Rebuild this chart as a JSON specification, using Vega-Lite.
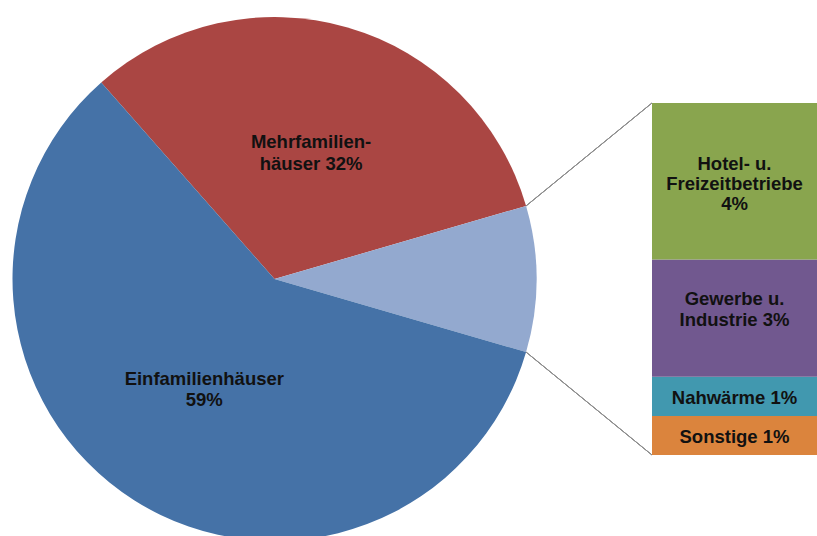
{
  "$schema": "https://vega.github.io/schema/vega-lite/v6.json",
  "padding": {"left": 12.5, "top": 17, "right": 0, "bottom": 0},
  "background": "white",
  "bounds": "flush",
  "center": true,
  "spacing": 115.5,
  "config": {"view": {"stroke": null}},
  "resolve": {"scale": {"color": "independent"}},
  "hconcat": [
    {
      "width": 524,
      "height": 524,
      "data": {
        "values": [
          {"Bereich": "Mehrfamilienhäuser", "Anteil": 32, "Label": "Mehrfamilien-\nhäuser 32%", "Rang": 1},
          {"Bereich": "Übrige", "Anteil": 9, "Label": "", "Rang": 2},
          {"Bereich": "Einfamilienhäuser", "Anteil": 59, "Label": "Einfamilienhäuser\n59%", "Rang": 3}
        ]
      },
      "layer": [
        {
          "mark": {"type": "arc", "outerRadius": 262},
          "encoding": {
            "theta": {"field": "Anteil", "type": "quantitative", "stack": true, "scale": {"range": [-0.72257, 5.56062]}},
            "order": {"field": "Rang", "type": "quantitative"},
            "color": {
              "field": "Bereich", "type": "nominal", "legend": null,
              "scale": {"domain": ["Mehrfamilienhäuser", "Übrige", "Einfamilienhäuser"], "range": ["#AA4643", "#93A9CF", "#4572A7"]}
            }
          }
        },
        {
          "mark": {"type": "text", "radius": 131, "dy": -11, "font": "Liberation Sans", "fontWeight": "bold", "fontSize": 18.5, "lineHeight": 21.5, "lineBreak": "\n", "fill": "#111111", "align": "center", "baseline": "middle"},
          "encoding": {
            "theta": {"field": "Anteil", "type": "quantitative", "stack": true},
            "order": {"field": "Rang", "type": "quantitative"},
            "text": {"field": "Label"}
          }
        },
        {
          "mark": {"type": "rule", "stroke": "#8C8C8C", "strokeWidth": 1},
          "encoding": {
            "x": {"datum": 0.9603, "type": "quantitative", "axis": null, "scale": {"domain": [-1, 1], "nice": false, "zero": false}},
            "y": {"datum": 0.279, "type": "quantitative", "axis": null, "scale": {"domain": [-1, 1], "nice": false, "zero": false}},
            "x2": {"datum": 1.4408},
            "y2": {"datum": 0.6718}
          }
        },
        {
          "mark": {"type": "rule", "stroke": "#8C8C8C", "strokeWidth": 1},
          "encoding": {
            "x": {"datum": 0.9603, "type": "quantitative", "axis": null},
            "y": {"datum": -0.279, "type": "quantitative", "axis": null},
            "x2": {"datum": 1.4408},
            "y2": {"datum": -0.6718}
          }
        }
      ]
    },
    {
      "width": 165,
      "height": 352,
      "data": {
        "values": [
          {"Gruppe": "Übrige", "Bereich": "Sonstige", "Anteil": 1, "Label": "Sonstige 1%", "Zeilen": 1, "Rang": 1},
          {"Gruppe": "Übrige", "Bereich": "Nahwärme", "Anteil": 1, "Label": "Nahwärme 1%", "Zeilen": 1, "Rang": 2},
          {"Gruppe": "Übrige", "Bereich": "Gewerbe u. Industrie", "Anteil": 3, "Label": "Gewerbe u.\nIndustrie 3%", "Zeilen": 2, "Rang": 3},
          {"Gruppe": "Übrige", "Bereich": "Hotel- u. Freizeitbetriebe", "Anteil": 4, "Label": "Hotel- u.\nFreizeitbetriebe\n4%", "Zeilen": 3, "Rang": 4}
        ]
      },
      "transform": [
        {"stack": "Anteil", "groupby": ["Gruppe"], "sort": [{"field": "Rang", "order": "ascending"}], "as": ["Anfang", "Ende"]}
      ],
      "encoding": {
        "x": {"field": "Gruppe", "type": "nominal", "axis": null, "scale": {"paddingInner": 0, "paddingOuter": 0}}
      },
      "layer": [
        {
          "mark": {"type": "bar"},
          "encoding": {
            "y": {"field": "Anfang", "type": "quantitative", "axis": null, "scale": {"domain": [0, 9], "nice": false}},
            "y2": {"field": "Ende"},
            "color": {
              "field": "Bereich", "type": "nominal", "legend": null,
              "scale": {"domain": ["Hotel- u. Freizeitbetriebe", "Gewerbe u. Industrie", "Nahwärme", "Sonstige"], "range": ["#89A54E", "#71588F", "#4198AF", "#DB843D"]}
            }
          }
        },
        {
          "transform": [{"filter": "datum.Zeilen == 3"}],
          "mark": {"type": "text", "dy": 60.5, "font": "Liberation Sans", "fontWeight": "bold", "fontSize": 18.5, "lineHeight": 20, "lineBreak": "\n", "fill": "#111111", "align": "center", "baseline": "middle"},
          "encoding": {
            "y": {"field": "Ende", "type": "quantitative"},
            "text": {"field": "Label"}
          }
        },
        {
          "transform": [{"filter": "datum.Zeilen == 2"}],
          "mark": {"type": "text", "dy": 40, "font": "Liberation Sans", "fontWeight": "bold", "fontSize": 18.5, "lineHeight": 21, "lineBreak": "\n", "fill": "#111111", "align": "center", "baseline": "middle"},
          "encoding": {
            "y": {"field": "Ende", "type": "quantitative"},
            "text": {"field": "Label"}
          }
        },
        {
          "transform": [{"filter": "datum.Zeilen == 1"}],
          "mark": {"type": "text", "dy": 21, "font": "Liberation Sans", "fontWeight": "bold", "fontSize": 18.5, "lineHeight": 21, "lineBreak": "\n", "fill": "#111111", "align": "center", "baseline": "middle"},
          "encoding": {
            "y": {"field": "Ende", "type": "quantitative"},
            "text": {"field": "Label"}
          }
        }
      ]
    }
  ]
}
